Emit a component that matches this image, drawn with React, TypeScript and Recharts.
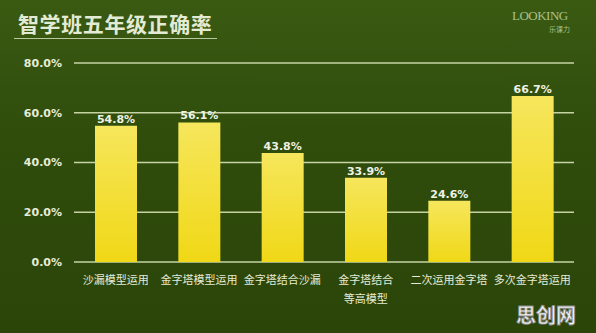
import { BarChart, Bar, XAxis, YAxis, CartesianGrid, LabelList } from 'recharts';

const categories = ['沙漏模型运用', '金字塔模型运用', '金字塔结合沙漏', '金字塔结合\n等高模型', '二次运用金字塔', '多次金字塔运用'];
const rates = [54.8, 56.1, 43.8, 33.9, 24.6, 66.7];
const yTicks = [0, 20, 40, 60, 80];

const data = categories.map((name, i) => ({ name, rate: rates[i] }));

const numFont = '"DejaVu Sans", Verdana, sans-serif';
const cjkFont = '"Noto Sans CJK SC", "Noto Sans", sans-serif';

function CategoryTick({ x, y, payload }: any) {
  const lines = String(payload.value).split('\n');
  return (
    <text x={x} y={y} textAnchor="middle" fill="#e6ecd8" fontSize={11} fontFamily={cjkFont}>
      {lines.map((l, i) => (
        <tspan key={i} x={x} dy={i === 0 ? 14 : 19}>{l}</tspan>
      ))}
    </text>
  );
}

export default function App() {
  return (
    <div
      style={{
        position: 'fixed',
        left: 0,
        top: 0,
        width: 596,
        height: 333,
        background: 'linear-gradient(180deg, #3a5a12 0%, #304d0c 40%, #2b4509 100%)',
        overflow: 'hidden',
      }}
    >
      <div
        style={{
          position: 'absolute',
          left: 18,
          top: 8,
          fontFamily: cjkFont,
          fontWeight: 700,
          fontSize: 21,
          letterSpacing: 0.6,
          color: '#e4ebd4',
          lineHeight: '30px',
        }}
      >
        智学班五年级正确率
      </div>
      <div style={{ position: 'absolute', left: 14, top: 38, width: 203, height: 1, background: '#b9c8a0' }} />

      <div
        style={{
          position: 'absolute',
          left: 512,
          top: 9,
          fontFamily: '"Liberation Serif", "DejaVu Serif", serif',
          fontSize: 13,
          color: '#a9c08c',
          letterSpacing: -0.5,
          lineHeight: '14px',
        }}
      >
        LOOKING
      </div>
      <div
        style={{
          position: 'absolute',
          left: 549,
          top: 25,
          fontFamily: cjkFont,
          fontSize: 7,
          color: '#a9c08c',
          lineHeight: '9px',
        }}
      >
        乐课力
      </div>

      <BarChart width={596} height={333} data={data} margin={{ top: 63, right: 22, bottom: 11, left: 0 }}>
        <defs>
          <linearGradient id="barFill" x1="0" y1="0" x2="0" y2="1">
            <stop offset="0%" stopColor="#f6e65c" />
            <stop offset="100%" stopColor="#f0d816" />
          </linearGradient>
        </defs>
        <CartesianGrid vertical={false} stroke="#c5d3a4" strokeWidth={1.3} />
        <XAxis
          dataKey="name"
          axisLine={false}
          tickLine={false}
          height={60}
          interval={0}
          tick={<CategoryTick />}
        />
        <YAxis
          domain={[0, 80]}
          ticks={yTicks}
          width={74}
          axisLine={false}
          tickLine={false}
          tickSize={0}
          tickMargin={12}
          tickFormatter={(v: number) => v.toFixed(1) + '%'}
          tick={{ fill: '#e6ecd8', fontSize: 11, fontWeight: 700, fontFamily: numFont }}
        />
        <Bar dataKey="rate" fill="url(#barFill)" barSize={42} isAnimationActive={false}>
          <LabelList
            dataKey="rate"
            position="top"
            offset={3}
            formatter={(v: any) => Number(v).toFixed(1) + '%'}
            fill="#eef2e4"
            fontSize={11}
            fontWeight={700}
            fontFamily={numFont}
          />
        </Bar>
      </BarChart>

      <div
        style={{
          position: 'absolute',
          left: 516,
          top: 302,
          fontFamily: cjkFont,
          fontWeight: 700,
          fontSize: 20,
          color: '#f4f4f4',
          WebkitTextStroke: '0.8px #8a8a8a',
          lineHeight: '26px',
        }}
      >
        思创网
      </div>
    </div>
  );
}
